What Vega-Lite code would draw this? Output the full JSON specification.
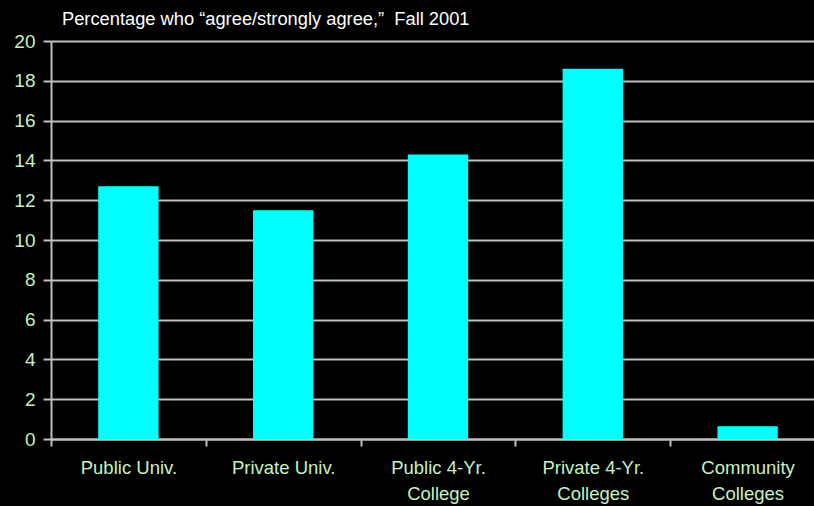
{
  "$schema": "https://vega.github.io/schema/vega-lite/v6.json",
  "width": 774,
  "height": 398,
  "autosize": {"type": "none"},
  "padding": {"left": 51, "top": 41, "right": 0, "bottom": 67},
  "background": "#000000",
  "config": {"view": {"stroke": null}, "font": "Liberation Sans"},
  "title": {
    "text": "Percentage who “agree/strongly agree,”\u00a0 Fall 2001",
    "anchor": "start",
    "frame": "group",
    "dx": 11,
    "offset": 3,
    "fontSize": 18.3,
    "fontWeight": "normal",
    "color": "#ffffff",
    "font": "Liberation Sans"
  },
  "data": {
    "values": [
      {"institution": "Public Univ.", "percent": 12.7},
      {"institution": "Private Univ.", "percent": 11.5},
      {"institution": "Public 4-Yr.|College", "percent": 14.3},
      {"institution": "Private 4-Yr.|Colleges", "percent": 18.6},
      {"institution": "Community|Colleges", "percent": 0.64}
    ]
  },
  "mark": {"type": "bar", "color": "#00ffff", "width": {"band": 0.39}},
  "encoding": {
    "x": {
      "field": "institution",
      "type": "nominal",
      "sort": null,
      "scale": {"paddingInner": 0, "paddingOuter": 0},
      "axis": {
        "title": null,
        "labelAngle": 0,
        "labelExpr": "split(datum.label, '|')",
        "labelColor": "#c8f0c0",
        "labelFontSize": 18.5,
        "labelLineHeight": 26,
        "labelPadding": 12,
        "labelFont": "Liberation Sans",
        "tickBand": "extent",
        "tickColor": "#c0c0c0",
        "tickWidth": 2,
        "tickSize": 7,
        "domainColor": "#c0c0c0",
        "domainWidth": 2,
        "grid": false
      }
    },
    "y": {
      "field": "percent",
      "type": "quantitative",
      "scale": {"domain": [0, 20], "nice": false},
      "axis": {
        "title": null,
        "values": [0, 2, 4, 6, 8, 10, 12, 14, 16, 18, 20],
        "labelColor": "#c8f0c0",
        "labelFontSize": 19,
        "labelFont": "Liberation Sans",
        "labelPadding": 8,
        "tickColor": "#c0c0c0",
        "tickWidth": 2,
        "tickSize": 8,
        "domainColor": "#c0c0c0",
        "domainWidth": 2,
        "grid": true,
        "gridColor": "#c0c0c0",
        "gridWidth": 2,
        "gridOpacity": 1
      }
    }
  }
}
